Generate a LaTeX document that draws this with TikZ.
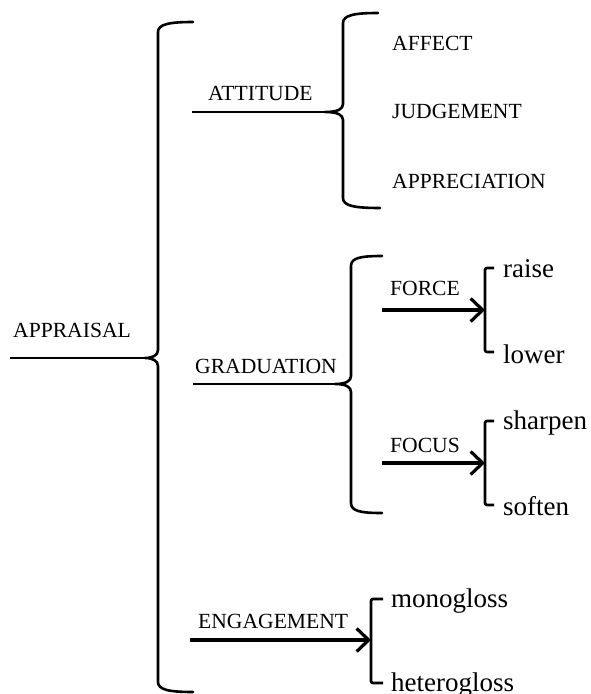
\documentclass[tikz,border=0pt]{standalone}
\usepackage{fontspec}
\setmainfont{Liberation Serif}
\usetikzlibrary{arrows.meta}
\tikzset{
  brace/.style={line width=2.6pt, line cap=round, line join=round},
  hline/.style={line width=2.6pt},
  arr/.style={line width=3.4pt, -{Straight Barb[length=12pt, width=23pt, line width=3.2pt]}},
  bracket/.style={line width=2.6pt, rounded corners=2pt},
  captext/.style={anchor=base west, inner sep=0pt, font=\fontsize{21.6}{24}\selectfont},
  lowtext/.style={anchor=base west, inner sep=0pt, font=\fontsize{27}{30}\selectfont},
}
\begin{document}
\begin{tikzpicture}[x=1pt, y=-1pt]
\useasboundingbox (0,0) rectangle (591,694);
% texts
\node[captext] (appraisal) at (13,337) {APPRAISAL};
\node[captext] (attitude) at (208,100) {ATTITUDE};
\node[captext] (affect) at (392,50) {AFFECT};
\node[captext] (judgement) at (392,118) {JUDGEMENT};
\node[captext] (appreciation) at (392,188) {APPRECIATION};
\node[captext] (graduation) at (195,373) {GRADUATION};
\node[captext] (force) at (390,295) {FORCE};
\node[captext] (focus) at (390,452) {FOCUS};
\node[lowtext] (raise) at (503,277) {raise};
\node[lowtext] (lower) at (503,363) {lower};
\node[lowtext] (sharpen) at (503,429) {sharpen};
\node[lowtext] (soften) at (503,515) {soften};
\node[captext] (engagement) at (198,628) {ENGAGEMENT};
\node[lowtext] (monogloss) at (391,607) {monogloss};
\node[lowtext] (heterogloss) at (391,691) {heterogloss};
% coordinates
\coordinate (apL) at (10,358);
\coordinate (apT) at (145,358);
\coordinate (atL) at (192,112);
\coordinate (atT) at (325,112);
\coordinate (grL) at (193,384);
\coordinate (grT) at (335,384);
\coordinate (foL) at (382,310);
\coordinate (foT) at (485,310);
\coordinate (fcL) at (382,463);
\coordinate (fcT) at (485,463);
\coordinate (enL) at (190,640);
\coordinate (enT) at (371,640);
% big brace
\draw[brace] (193,22) .. controls (170,22) and (158,24) .. (158,32) -- (158,350)
  .. controls (158,355) and (153,358) .. (apT)
  .. controls (153,358) and (158,361) .. (158,366) -- (158,682)
  .. controls (158,690) and (170,692) .. (193,692);
% attitude brace
\draw[brace] (378,13) .. controls (355,13) and (343,15) .. (343,23) -- (343,104)
  .. controls (343,109) and (338,112) .. (atT)
  .. controls (338,112) and (343,115) .. (343,120) -- (343,198)
  .. controls (343,206) and (355,208) .. (380,208);
% graduation brace
\draw[brace] (382,256) .. controls (360,256) and (351,258) .. (351,266) -- (351,376)
  .. controls (351,381) and (346,384) .. (grT)
  .. controls (346,384) and (351,387) .. (351,392) -- (351,503)
  .. controls (351,511) and (360,513) .. (382,513);
% small brackets
\draw[bracket] (494,268) -- (485,268) -- (485,352) -- (494,352);
\draw[bracket] (494,421) -- (485,421) -- (485,505) -- (494,505);
\draw[bracket] (383,599) -- (371,599) -- (371,683) -- (383,683);
% connectors
\draw[hline] (apL) -- (apT);
\draw[hline] (atL) -- (atT);
\draw[hline] (grL) -- (grT);
\draw[arr] (foL) -- (foT);
\draw[arr] (fcL) -- (fcT);
\draw[arr] (enL) -- (enT);
\end{tikzpicture}
\end{document}
